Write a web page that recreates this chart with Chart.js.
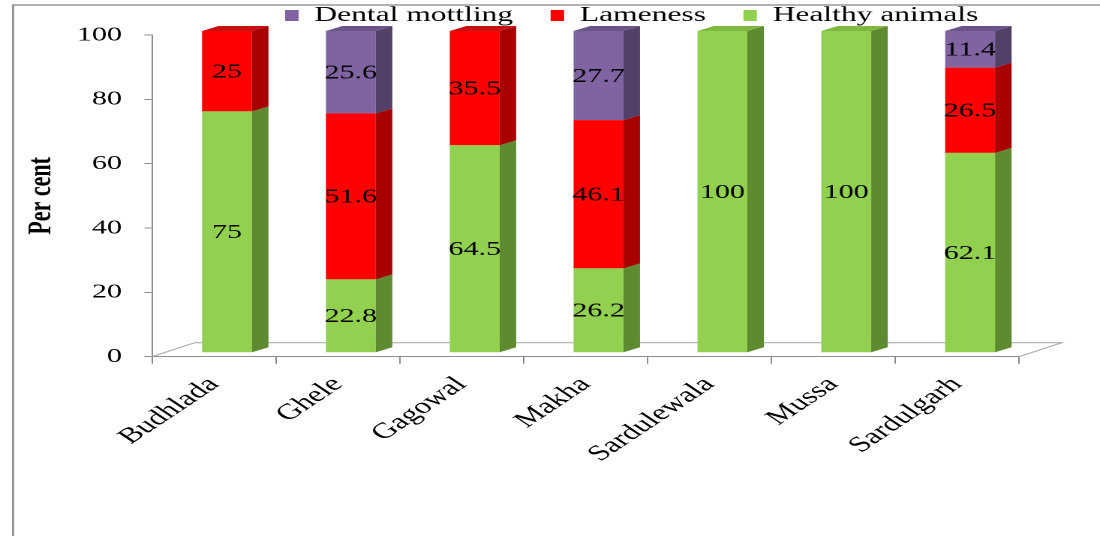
<!DOCTYPE html>
<html>
<head>
<meta charset="utf-8">
<script src="https://cdn.jsdelivr.net/npm/chart.js@4.4.1/dist/chart.umd.min.js"></script>
<style>
  html, body { margin: 0; padding: 0; background: #fff; overflow: hidden; }
  #chart { display: block; }
</style>
</head>
<body>
<!-- the source picture is an Excel 3-D column chart stretched to 1.5x its width,
     so the chart is drawn 733px wide and widened by the inline style -->
<canvas id="chart" width="733" height="536" style="width:1100px;height:536px"></canvas>
<script>
const villages = ['Budhlada', 'Ghele', 'Gagowal', 'Makha', 'Sardulewala', 'Mussa', 'Sardulgarh'];
const healthy = [75, 22.8, 64.5, 26.2, 100, 100, 62.1];
const lameness = [25, 51.6, 35.5, 46.1, 0, 0, 26.5];
const mottling = [0, 25.6, 0, 27.7, 0, 0, 11.4];
const yTicks = [0, 20, 40, 60, 80, 100];

const SERIF = "'Liberation Serif', 'Times New Roman', serif";
const GREY = '#8c8c8c';

// 3-D look (canvas px, before the css stretch)
const FLOOR_DX = 28.5, FLOOR_DY = -14;   // depth of the floor
const BAR_DX = 8.7, BAR_DY = -4;         // bars sit a bit back on the floor
const DEPTH_DX = 11, DEPTH_DY = -5;      // depth of a column
const LEGEND_LEFT = 190;                 // first legend swatch
const LEGEND_SHIFT_Y = -20;

const bar3d = {
    id: 'bar3d',
    afterLayout(chart) {
        const lg = chart.legend;
        if (!lg || !lg.lineWidths) return;
        const pad = lg.options.labels.padding;
        const start = (lg.left + pad + lg.right - lg.lineWidths[0]) / 2;
        const dx = LEGEND_LEFT - start;
        lg.left += dx;
        lg.right += dx;
        lg.top += LEGEND_SHIFT_Y; // keep bottom so the text isn't clipped
    },
    beforeDraw(chart) {
        const ctx = chart.ctx;
        ctx.save();
        ctx.strokeStyle = '#898989';
        ctx.lineWidth = 1.3;
        ctx.strokeRect(8.7, 5, 1000, 1000);
        ctx.restore();
    },
    beforeDatasetsDraw(chart) {
        const { ctx, chartArea: a } = chart;
        // floor outline
        ctx.save();
        ctx.strokeStyle = '#a6a6a6';
        ctx.lineWidth = 1;
        ctx.beginPath();
        ctx.moveTo(a.left, a.bottom);
        ctx.lineTo(a.left + FLOOR_DX, a.bottom + FLOOR_DY);
        ctx.lineTo(a.right + FLOOR_DX, a.bottom + FLOOR_DY);
        ctx.lineTo(a.right, a.bottom);
        ctx.stroke();
        ctx.restore();

        ctx.save();
        ctx.translate(BAR_DX, BAR_DY);
    },
    afterDatasetsDraw(chart) {
        const ctx = chart.ctx;
        const sets = chart.data.datasets;

        sets.forEach((ds, di) => {
            const meta = chart.getDatasetMeta(di);
            meta.data.forEach((bar, i) => {
                if (!ds.data[i]) return;
                const { x, y, base, width } = bar.getProps(['x', 'y', 'base', 'width'], true);
                const l = x - width / 2, r = x + width / 2;

                // right side
                ctx.fillStyle = ds.sideColor;
                ctx.beginPath();
                ctx.moveTo(r, y);
                ctx.lineTo(r + DEPTH_DX, y + DEPTH_DY);
                ctx.lineTo(r + DEPTH_DX, base + DEPTH_DY);
                ctx.lineTo(r, base);
                ctx.closePath();
                ctx.fill();

                // lid on the highest piece
                const covered = sets.slice(di + 1).some(d => d.data[i] > 0);
                if (!covered) {
                    ctx.fillStyle = ds.topColor;
                    ctx.beginPath();
                    ctx.moveTo(l, y);
                    ctx.lineTo(l + DEPTH_DX, y + DEPTH_DY);
                    ctx.lineTo(r + DEPTH_DX, y + DEPTH_DY);
                    ctx.lineTo(r, y);
                    ctx.closePath();
                    ctx.fill();
                }
            });
        });

        // values in the middle of each piece
        ctx.fillStyle = '#000';
        ctx.font = `20px ${SERIF}`;
        ctx.textAlign = 'center';
        ctx.textBaseline = 'middle';
        sets.forEach((ds, di) => {
            const meta = chart.getDatasetMeta(di);
            meta.data.forEach((bar, i) => {
                if (!ds.data[i]) return;
                const { x, y, base } = bar.getProps(['x', 'y', 'base'], true);
                ctx.fillText(String(ds.data[i]), x, (y + base) / 2 + 1);
            });
        });

        ctx.restore();
    }
};

new Chart(document.getElementById('chart'), {
    type: 'bar',
    data: {
        labels: villages,
        datasets: [
            { label: 'Healthy animals', data: healthy, backgroundColor: '#92d050', sideColor: '#5e8a30', topColor: '#7fb83f' },
            { label: 'Lameness', data: lameness, backgroundColor: '#ff0000', sideColor: '#a80000', topColor: '#c81010' },
            { label: 'Dental mottling', data: mottling, backgroundColor: '#8064a2', sideColor: '#524068', topColor: '#6a5389' }
        ].map(d => Object.assign(d, { borderWidth: 0, categoryPercentage: 1, barPercentage: 0.403, clip: false }))
    },
    options: {
        responsive: false,
        devicePixelRatio: 2,
        animation: false,
        layout: { padding: { left: 10.5, right: 54, top: 0, bottom: 59.3 } },
        plugins: {
            legend: {
                position: 'top',
                reverse: true,
                maxHeight: 35,
                labels: {
                    color: '#000',
                    font: { family: SERIF, size: 21 },
                    boxWidth: 9,
                    boxHeight: 11,
                    padding: 25
                }
            },
            tooltip: { enabled: false }
        },
        scales: {
            x: {
                stacked: true,
                offset: true,
                ticks: {
                    color: '#000',
                    font: { family: SERIF, size: 22 },
                    minRotation: 45,
                    maxRotation: 45,
                    autoSkip: false,
                    padding: 8
                },
                grid: { display: true, drawOnChartArea: false, offset: true, tickLength: 7, color: GREY },
                border: { display: true, color: GREY, width: 1 },
                afterFit: s => { s.height = 120; }
            },
            y: {
                stacked: true,
                min: 0,
                max: 100,
                afterBuildTicks: s => { s.ticks = yTicks.map(v => ({ value: v })); },
                ticks: { color: '#000', font: { family: SERIF, size: 20 }, padding: 15 },
                grid: { display: true, drawOnChartArea: false, tickLength: 5, color: GREY },
                border: { display: true, color: GREY, width: 1 },
                title: {
                    display: true,
                    text: 'Per cent',
                    color: '#000',
                    font: { family: SERIF, size: 22, weight: 'bold' },
                    padding: { top: 4, bottom: 10 }
                },
                afterFit: s => { s.width = 90.8; }
            }
        }
    },
    plugins: [bar3d]
});
</script>
</body>
</html>
